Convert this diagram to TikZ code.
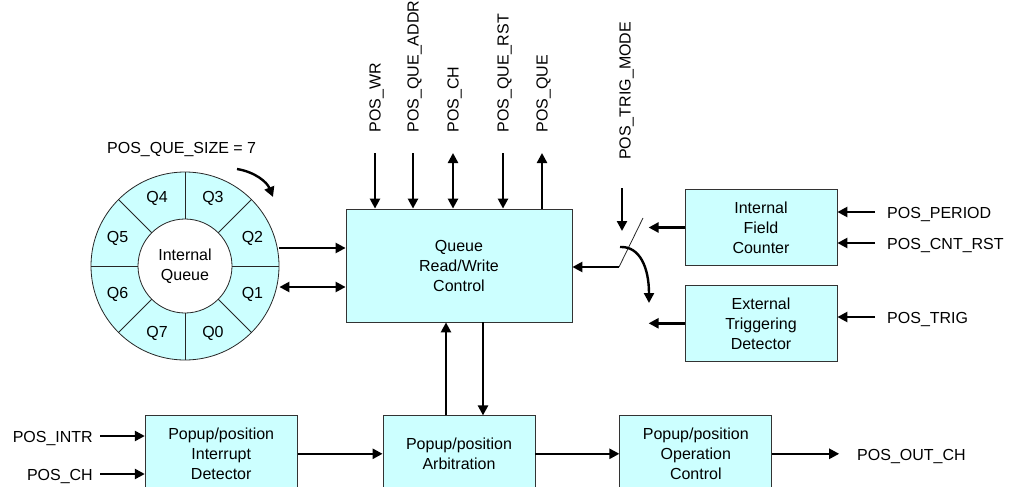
\documentclass[tikz,border=0pt]{standalone}
\usepackage{fontspec}
\setmainfont{Liberation Sans}
\usetikzlibrary{arrows.meta, positioning}
\definecolor{blkfill}{HTML}{CCFFFF}

\begin{document}
\begin{tikzpicture}[x=1pt, y=-1pt, font=\fontsize{16}{20}\selectfont,
  blk/.style={draw=black!80, fill=blkfill, line width=0.8pt, align=center, inner sep=2pt, minimum width=152pt, minimum height=76pt},
  sig/.style={inner sep=0pt},
  thin/.style={draw=black!85, line width=0.8pt},
  arr/.style={-{Triangle[length=10pt,width=10pt]}, line width=2.4pt},
  darr/.style={{Triangle[length=10pt,width=10pt]}-{Triangle[length=10pt,width=10pt]}, line width=2.4pt}]
\useasboundingbox (0,0) rectangle (1009,487);
% Internal queue ring
\node[circle, thin, fill=blkfill, minimum size=188pt, inner sep=0pt] (ring) at (185,266) {};
\foreach \a in {0,45,...,315}
  \draw[thin] (ring.center) -- (ring.\a);
\node[circle, thin, fill=white, minimum size=94pt, inner sep=0pt, align=center] (que) at (ring.center) {Internal\\Queue};
\foreach \a/\q in {22.5/Q2, 67.5/Q3, 112.5/Q4, 157.5/Q5, 202.5/Q6, 247.5/Q7, 292.5/Q0, 337.5/Q1}
  \node (slot-\q) at ([shift={(\a:73pt)}]ring.center) {\q};
\node[sig, anchor=base west] (size) at (107,153) {POS\_QUE\_SIZE = 7};
\coordinate (rot-a) at (237,169);
\coordinate (rot-b) at (273,197);
\draw[arr] (rot-a) .. controls (255,172) and (267,182) .. (rot-b);
% Queue control
\node[blk, minimum width=226pt, minimum height=113pt] (main) at (459,265.5) {Queue\\Read/Write\\Control};
\draw[arr] ([yshift=18pt]ring.east) coordinate (q-out) -- (q-out -| main.west);
\draw[darr] ([yshift=-21pt]ring.east) coordinate (q-in) -- (q-in -| main.west);
% top signals
\foreach \x/\nm/\txt in {375/wr/POS\_WR, 413/addr/POS\_QUE\_ADDR, 453/ch/POS\_CH, 503/rst/POS\_QUE\_RST, 542/que/POS\_QUE}{
  \node[sig, rotate=90, anchor=base west] (\nm-lbl) at (\x+5.7,132.5) {\txt};
  \coordinate (\nm-top) at (\x,153);
}
\draw[arr] (wr-top) -- (wr-top |- main.north);
\draw[arr] (addr-top) -- (addr-top |- main.north);
\draw[darr] (ch-top) -- (ch-top |- main.north);
\draw[arr] (rst-top) -- (rst-top |- main.north);
\draw[arr] (que-top |- main.north) -- (que-top);
% trigger select switch
\node[sig, rotate=90, anchor=base west] (mode-lbl) at (630.7,160) {POS\_TRIG\_MODE};
\coordinate (mode-top) at (622,188);
\coordinate (mode-end) at (622,231);
\coordinate (sw) at (619,267);
\coordinate (sw-top) at (643,218);
\coordinate (sw-a) at (620,247);
\coordinate (sw-b) at (649,303);
\draw[arr] (mode-top) -- (mode-end);
\draw[thin] (sw) -- (sw-top);
\draw[arr] (sw) -- (sw -| main.east);
\draw[arr] (sw-a) .. controls (640,246) and (649,268) .. (sw-b);
% trigger sources
\node[blk] (ifc) at (761,227.5) {Internal\\Field\\Counter};
\node[blk, below=19pt of ifc] (etd) {External\\Triggering\\Detector};
\coordinate[left=36pt of ifc.west] (sel-a);
\coordinate[left=36pt of etd.west] (sel-b);
\draw[arr] (ifc.west) -- (sel-a);
\draw[arr] (etd.west) -- (sel-b);
\node[sig, anchor=base west] (per-lbl) at (887,218) {POS\_PERIOD};
\node[sig, anchor=base west] (cnt-lbl) at (887,249) {POS\_CNT\_RST};
\node[sig, anchor=base west] (trig-lbl) at (887,323) {POS\_TRIG};
\coordinate (per-in) at (875,212);
\coordinate (cnt-in) at (875,243);
\coordinate (trig-in) at (875,317);
\draw[arr] (per-in) -- (per-in -| ifc.east);
\draw[arr] (cnt-in) -- (cnt-in -| ifc.east);
\draw[arr] (trig-in) -- (trig-in -| etd.east);
% popup/position path
\node[blk, below=93pt of main] (arb) {Popup/position\\Arbitration};
\node[blk, left=85pt of arb] (intr) {Popup/position\\Interrupt\\Detector};
\node[blk, right=84pt of arb] (opc) {Popup/position\\Operation\\Control};
\draw[arr] ([xshift=-13pt]arb.north) -- ([xshift=-13pt]main.south);
\draw[arr] ([xshift=24pt]main.south) -- ([xshift=24pt]arb.north);
\draw[arr] (intr) -- (arb);
\draw[arr] (arb) -- (opc);
\node[sig, anchor=base east] (intr-lbl) at (93,442) {POS\_INTR};
\node[sig, anchor=base east] (chin-lbl) at (93,480) {POS\_CH};
\coordinate (intr-in) at (100,436);
\coordinate (ch-in) at (100,474);
\draw[arr] (intr-in) -- (intr-in -| intr.west);
\draw[arr] (ch-in) -- (ch-in -| intr.west);
\coordinate[right=67pt of opc.east] (out);
\draw[arr] (opc.east) -- (out);
\node[sig, anchor=base west] (out-lbl) at (857,460) {POS\_OUT\_CH};
\end{tikzpicture}
\end{document}
